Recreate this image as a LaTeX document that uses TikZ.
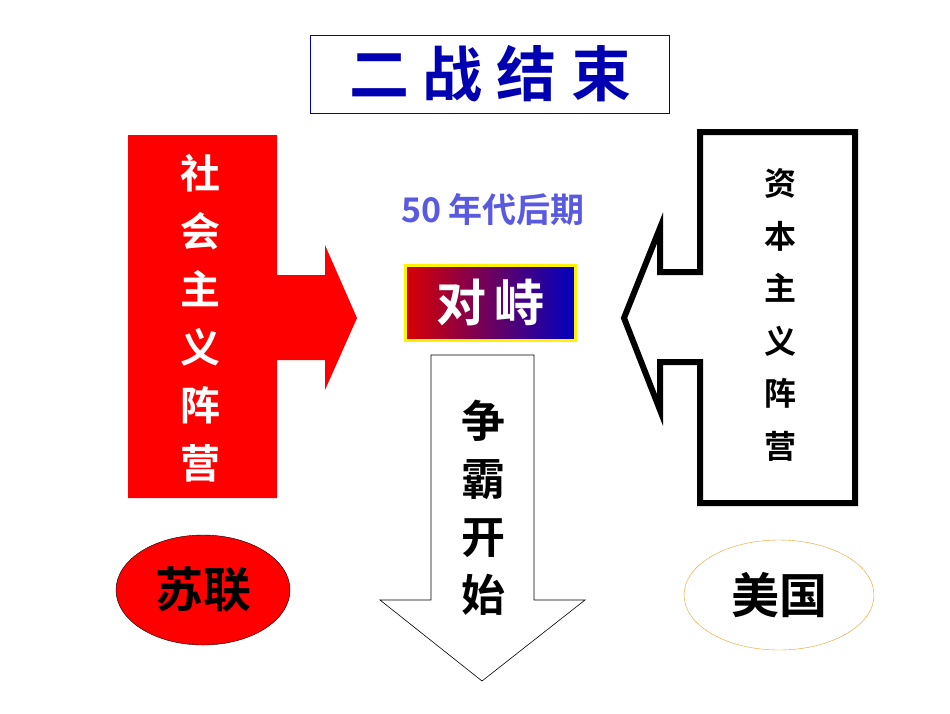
\documentclass[tikz,border=0pt]{standalone}
\usetikzlibrary{shapes.geometric}
\usepackage{fontspec}
\setmainfont{Liberation Sans}
\newfontfamily\cjk{Noto Sans CJK SC Bold}
\begin{document}
\begin{tikzpicture}[x=1pt,y=-1pt,
  vtext/.style={font=\cjk, align=center, inner sep=0pt}]
\useasboundingbox (0,0) rectangle (950,713);
\fill[white] (0,0) rectangle (950,713);
% title
\node[draw=blue!70!black, line width=1pt, minimum width=359pt, minimum height=78pt, text=blue!70!black, font=\cjk\fontsize{60}{60}\selectfont] (title) at (490,74) {二\hspace{14pt}战\hspace{14pt}结\hspace{14pt}束};
% left red arrow
\fill[red] (128,135) -- (277,135) -- (277,275) -- (325,275) -- (325,245) -- (357,318) -- (325,390) -- (325,360) -- (277,360) -- (277,498) -- (128,498) -- cycle;
\node[vtext, text=white, font=\cjk\fontsize{40}{58}\selectfont] (left) at (200,318) {社\\会\\主\\义\\阵\\营};
% right arrow
\draw[line width=6pt, fill=white, line join=miter] (700,132) -- (855,132) -- (855,503) -- (700,503) -- (700,362) -- (660,362) -- (660,410) -- (624,318) -- (660,228) -- (660,272) -- (700,272) -- cycle;
\node[vtext, font=\cjk\fontsize{32}{52.5}\selectfont] (right) at (780,315) {资\\本\\主\\义\\阵\\营};
% 50s
\node[text={rgb,255:red,90;green,90;blue,225}, font=\cjk\fontsize{34}{34}\selectfont] (year) at (493,210) {50 年代后期};
% center box
\shade[left color=red!85!black, right color=blue!75!black] (405,265) rectangle (575,340);
\draw[yellow, line width=3pt] (405,265) rectangle (575,340);
\node[text=white, font=\cjk\fontsize{50}{50}\selectfont, draw=none] (mid) at (490,302) {对\hspace{8pt}峙};
% down arrow
\draw[line width=0.6pt, fill=white] (431,355) -- (534,355) -- (534,600) -- (585,600) -- (482,681) -- (380,600) -- (431,600) -- cycle;
\node[vtext, font=\cjk\fontsize{44}{58}\selectfont] (down) at (483,508) {争\\霸\\开\\始};
% ellipses
\node[ellipse, draw=black, fill=red, minimum width=174pt, minimum height=110pt, inner sep=0pt, font=\cjk\fontsize{48}{48}\selectfont] (su) at (203,590) {苏联};
\node[ellipse, draw={rgb,255:red,230;green,160;blue,40}, minimum width=190pt, minimum height=110pt, inner sep=0pt, font=\cjk\fontsize{48}{48}\selectfont] (us) at (779,595) {美国};
\end{tikzpicture}
\end{document}
